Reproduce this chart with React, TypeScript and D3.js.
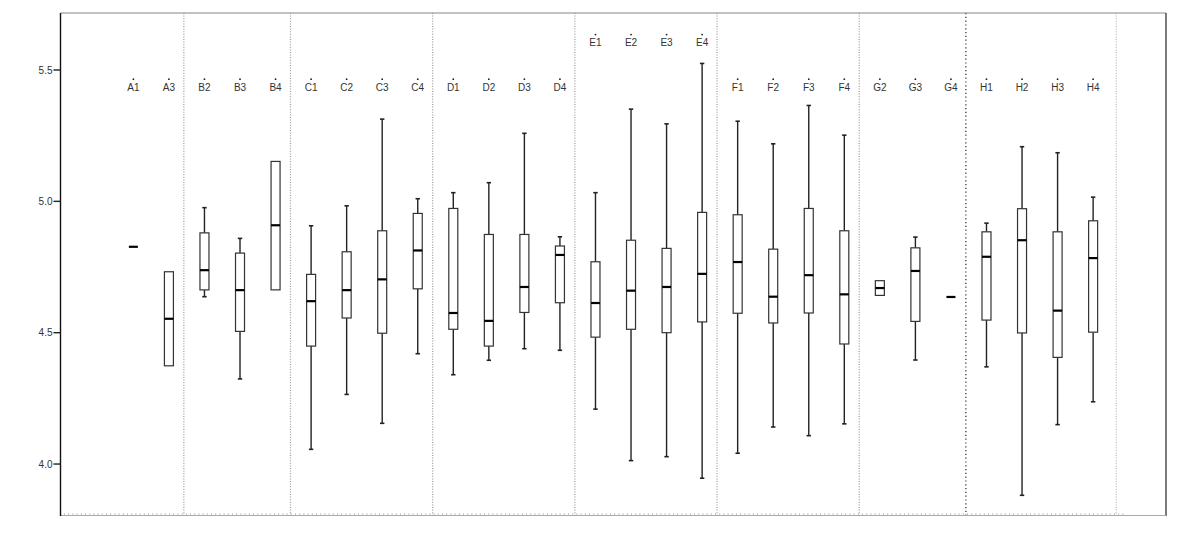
import React from "react";
import * as d3 from "d3";

const categories = ["A1","A3","B2","B3","B4","C1","C2","C3","C4","D1","D2","D3","D4","E1","E2","E3","E4","F1","F2","F3","F4","G2","G3","G4","H1","H2","H3","H4"];
const groups = ["A","A","B","B","B","C","C","C","C","D","D","D","D","E","E","E","E","F","F","F","F","G","G","G","H","H","H","H"];
const whiskerLow: (number | null)[] = [null,null,4.637,4.324,null,4.056,4.265,4.155,4.420,4.340,4.395,4.439,4.433,4.209,4.013,4.028,3.946,4.041,4.141,4.108,4.153,null,4.396,null,4.370,3.881,4.150,4.237];
const q1 = [4.827,4.374,4.663,4.505,4.663,4.449,4.556,4.498,4.667,4.513,4.449,4.577,4.614,4.483,4.513,4.500,4.541,4.574,4.537,4.575,4.457,4.642,4.543,4.636,4.548,4.499,4.406,4.502];
const median = [4.827,4.553,4.738,4.662,4.909,4.620,4.662,4.703,4.813,4.575,4.545,4.674,4.796,4.613,4.660,4.674,4.724,4.769,4.637,4.719,4.646,4.670,4.735,4.636,4.789,4.852,4.584,4.784];
const q3 = [4.827,4.732,4.880,4.803,5.152,4.722,4.808,4.888,4.954,4.973,4.874,4.874,4.830,4.770,4.852,4.821,4.958,4.949,4.818,4.973,4.888,4.698,4.823,4.636,4.884,4.972,4.884,4.926];
const whiskerHigh: (number | null)[] = [null,null,4.976,4.859,null,4.907,4.983,5.313,5.010,5.033,5.071,5.259,4.865,5.033,5.351,5.295,5.525,5.305,5.219,5.365,5.252,null,4.864,null,4.917,5.208,5.185,5.016];
const labelValue = [5.465,5.465,5.465,5.465,5.465,5.465,5.465,5.465,5.465,5.465,5.465,5.465,5.465,5.635,5.635,5.635,5.635,5.465,5.465,5.465,5.465,5.465,5.465,5.465,5.465,5.465,5.465,5.465];
const yTicks = [4.0, 4.5, 5.0, 5.5];
const yDomain = [3.806, 5.717];

export default function App() {
  const W = 1188, H = 535;
  const left = 60.5, right = 1166, top = 13, bottom = 515;
  const x = d3.scalePoint<string>().domain(categories).range([left, right]).padding(2.05);
  const y = d3.scaleLinear().domain(yDomain).range([bottom, top]);
  const step = x.step();
  const bw = 9;
  const font = "Arial, 'Liberation Sans', sans-serif";

  // separators after each group
  const seps: { xp: number; last: boolean; dark: boolean }[] = [];
  categories.forEach((c, i) => {
    const isLast = i === categories.length - 1;
    if (isLast || groups[i + 1] !== groups[i]) {
      const xp = (x(c) as number) + (isLast ? 0.65 : 0.42) * step;
      seps.push({ xp, last: isLast, dark: groups[i] === "G" });
    }
  });

  const bottomTicks = d3.range(left + 4, right - 40, 4.2);

  return (
    <svg width={W} height={H} style={{ position: "absolute", left: 0, top: 0, background: "#fff" }}>
      <rect x={0} y={0} width={W} height={H} fill="#fff" />
      {/* separators */}
      {seps.map((s, i) => (
        <line key={"s" + i} x1={s.xp} x2={s.xp} y1={top} y2={bottom}
          stroke={s.dark ? "#222" : s.last ? "#bbb" : "#999"}
          strokeWidth={s.dark ? 1.2 : 1.2} strokeDasharray={s.dark ? "1.2,2.6" : "1,1.6"} />
      ))}
      {/* frame */}
      <line x1={left} x2={right} y1={top} y2={top} stroke="#888" strokeWidth={1.2} />
      <line x1={right} x2={right} y1={top} y2={bottom + 1} stroke="#222" strokeWidth={1.2} />
      <line x1={left} x2={right} y1={bottom + 0.5} y2={bottom + 0.5} stroke="#aaa" strokeWidth={1} />
      {bottomTicks.map((t, i) => (
        <line key={"bt" + i} x1={t} x2={t} y1={bottom - 2} y2={bottom} stroke="#bbb" strokeWidth={0.8} />
      ))}
      <line x1={left} x2={left} y1={top} y2={bottom + 1} stroke="#111" strokeWidth={1.4} />
      {/* y ticks */}
      {yTicks.map((t) => (
        <g key={"yt" + t}>
          <line x1={left - 7} x2={left} y1={y(t)} y2={y(t)} stroke="#222" strokeWidth={1.4} />
          <text x={left - 8} y={y(t) + 3.5} textAnchor="end" fontSize={10} fontFamily={font} fill="#333">
            {d3.format(".1f")(t)}
          </text>
        </g>
      ))}
      {/* labels */}
      {categories.map((c, i) => {
        const cx = x(c) as number;
        const ly = y(labelValue[i]);
        return (
          <g key={"l" + c}>
            <circle cx={cx} cy={ly} r={0.9} fill="#222" />
            <text x={cx} y={ly + 11.5} textAnchor="middle" fontSize={10} fontFamily={font} fill="#333">{c}</text>
          </g>
        );
      })}
      {/* boxes */}
      {categories.map((c, i) => {
        const cx = x(c) as number;
        const lo = whiskerLow[i], hi = whiskerHigh[i];
        const hasBox = q3[i] > q1[i];
        return (
          <g key={"b" + c}>
            {hi !== null && (
              <g>
                <line x1={cx} x2={cx} y1={y(hi)} y2={y(q3[i])} stroke="#222" strokeWidth={1.4} />
                <line x1={cx - 2.2} x2={cx + 2.2} y1={y(hi)} y2={y(hi)} stroke="#222" strokeWidth={1.6} />
              </g>
            )}
            {lo !== null && (
              <g>
                <line x1={cx} x2={cx} y1={y(q1[i])} y2={y(lo)} stroke="#222" strokeWidth={1.4} />
                <line x1={cx - 2.2} x2={cx + 2.2} y1={y(lo)} y2={y(lo)} stroke="#222" strokeWidth={1.6} />
              </g>
            )}
            {hasBox && (
              <rect x={cx - bw / 2} y={y(q3[i])} width={bw} height={y(q1[i]) - y(q3[i])}
                fill="#fff" stroke="#333" strokeWidth={1.2} />
            )}
            <line x1={cx - bw / 2} x2={cx + bw / 2} y1={y(median[i])} y2={y(median[i])} stroke="#000" strokeWidth={2.2} />
          </g>
        );
      })}
    </svg>
  );
}
